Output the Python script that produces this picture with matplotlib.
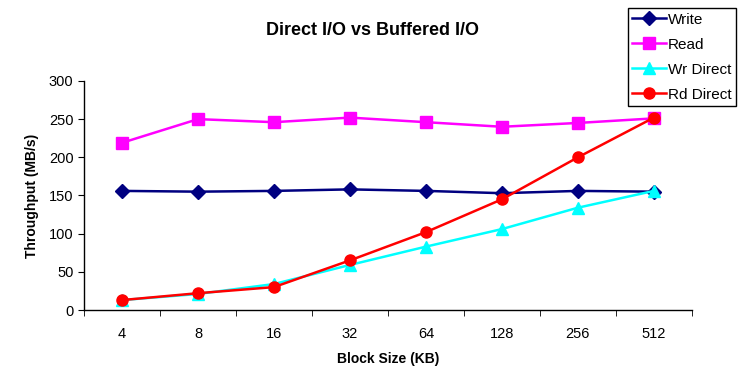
import numpy as np
import matplotlib.pyplot as plt

plt.rcParams['font.family'] = ['Liberation Sans', 'DejaVu Sans']

block_sizes = ['4', '8', '16', '32', '64', '128', '256', '512']
write = [156, 155, 156, 158, 156, 153, 156, 155]
read = [219, 250, 246, 252, 246, 240, 245, 251]
wr_direct = [13, 21, 34, 59, 83, 106, 134, 156]
rd_direct = [13, 22, 30, 65, 102, 145, 200, 252]

fig = plt.figure(figsize=(7.4, 3.68), dpi=100)
ax = fig.add_axes([0.1135, 0.1576, 0.8215, 0.6224])

x = np.arange(len(block_sizes))
ax.plot(x, write, color='#000080', marker='D', ms=7, lw=1.8, label='Write', clip_on=False)
ax.plot(x, read, color='#ff00ff', marker='s', ms=8, lw=1.8, label='Read', clip_on=False)
ax.plot(x, wr_direct, color='#00ffff', marker='^', ms=8, lw=1.8, label='Wr Direct', clip_on=False)
ax.plot(x, rd_direct, color='#ff0000', marker='o', ms=8, lw=1.8, label='Rd Direct', clip_on=False)

ax.set_xlim(-0.5, len(block_sizes) - 0.5)
ax.set_ylim(0, 300)
ax.set_yticks(range(0, 301, 50))
ax.set_xticks(x)
ax.set_xticklabels(block_sizes)
ax.set_xticks(np.arange(-0.5, len(block_sizes), 1), minor=True)
ax.tick_params(axis='x', which='major', length=0, pad=12, labelsize=10.5)
ax.tick_params(axis='x', which='minor', length=4, direction='out')
ax.tick_params(axis='y', length=4, direction='out', labelsize=10.5)

for s in ['top', 'right']:
    ax.spines[s].set_visible(False)
for s in ['left', 'bottom']:
    ax.spines[s].set_color('black')
    ax.spines[s].set_linewidth(1)

ax.set_xlabel('Block Size (KB)', fontsize=10, fontweight='bold', labelpad=8)
ax.set_ylabel('Throughput (MB/s)', fontsize=10, fontweight='bold', labelpad=7)
fig.text(0.503, 0.918, 'Direct I/O vs Buffered I/O', ha='center', va='center',
         fontsize=13, fontweight='bold')

leg = fig.legend(loc='upper right', bbox_to_anchor=(0.995, 0.978), fontsize=11,
                 frameon=True, fancybox=False, edgecolor='black', framealpha=1,
                 borderpad=0.3, labelspacing=0.72, handlelength=2.2, handletextpad=0.15,
                 borderaxespad=0)
leg.get_frame().set_linewidth(1)

fig.savefig('out.png', dpi=100)
